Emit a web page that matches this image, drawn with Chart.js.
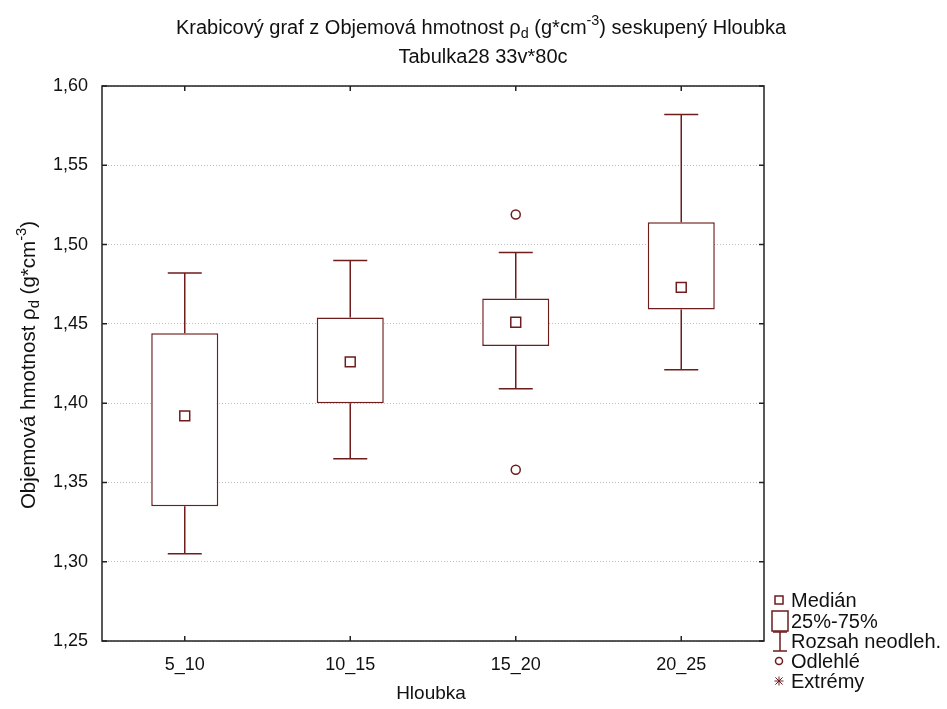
<!DOCTYPE html>
<html>
<head>
<meta charset="utf-8">
<script src="https://cdn.jsdelivr.net/npm/chart.js@4.4.1/dist/chart.umd.min.js"></script>
<style>
  html, body { margin: 0; padding: 0; background: #fff; }
  #wrap { width: 947px; height: 709px; }
</style>
</head>
<body>
<div id="wrap"><canvas id="c" width="947" height="709"></canvas></div>
<script>
// ---- data ----
const categories = ['5_10', '10_15', '15_20', '20_25'];
const whiskerLow  = [1.305, 1.365, 1.409, 1.421];
const quartile1   = [1.335, 1.400, 1.436, 1.459];
const medians     = [1.392, 1.426, 1.451, 1.473];
const quartile3   = [1.444, 1.454, 1.466, 1.514];
const whiskerHigh = [1.482, 1.490, 1.495, 1.582];
const outlierCats = ['15_20', '15_20'];
const outlierVals = [1.519, 1.358];
const yTicks = [1.25, 1.30, 1.35, 1.40, 1.45, 1.50, 1.55, 1.60];
const legendLabels = ['Medián', '25%-75%', 'Rozsah neodleh.', 'Odlehlé', 'Extrémy'];

const MARK = '#6e1c1c';
const FONT = '"Liberation Sans", Arial, sans-serif';

// rich text helper (sub/superscripts)
function richWidth(ctx, segs, size) {
  let w = 0;
  for (const s of segs) {
    const fs = s.sub || s.sup ? size * 0.72 : size;
    ctx.font = fs + 'px ' + FONT;
    w += ctx.measureText(s.t).width;
  }
  return w;
}
function drawRich(ctx, segs, cx, cy, size) {
  const w = richWidth(ctx, segs, size);
  let x = cx - w / 2;
  ctx.textBaseline = 'middle';
  ctx.textAlign = 'left';
  for (const s of segs) {
    const fs = s.sub || s.sup ? size * 0.72 : size;
    ctx.font = fs + 'px ' + FONT;
    let dy = 0;
    if (s.sub) dy = size * 0.3;
    if (s.sup) dy = -size * 0.35;
    ctx.fillText(s.t, x, cy + dy);
    x += ctx.measureText(s.t).width;
  }
}

const titleSegs = [
  { t: 'Krabicový graf z Objemová hmotnost ρ' }, { t: 'd', sub: true },
  { t: ' (g*cm' }, { t: '-3', sup: true }, { t: ') seskupený Hloubka' }
];
const subtitleSegs = [{ t: 'Tabulka28 33v*80c' }];
const yTitleSegs = [
  { t: 'Objemová hmotnost ρ' }, { t: 'd', sub: true },
  { t: ' (g*cm' }, { t: '-3', sup: true }, { t: ')' }
];

const boxPlugin = {
  id: 'boxExtras',
  beforeDatasetsDraw(chart) {
    const ctx = chart.ctx;
    const xs = chart.scales.x, ys = chart.scales.y;
    ctx.save();
    ctx.strokeStyle = MARK;
    ctx.lineWidth = 1.5;
    categories.forEach((c, i) => {
      const x = xs.getPixelForValue(i);
      const cap = 17;
      const yLo = ys.getPixelForValue(whiskerLow[i]);
      const yQ1 = ys.getPixelForValue(quartile1[i]);
      const yQ3 = ys.getPixelForValue(quartile3[i]);
      const yHi = ys.getPixelForValue(whiskerHigh[i]);
      ctx.beginPath();
      ctx.moveTo(x, yQ3); ctx.lineTo(x, yHi);
      ctx.moveTo(x - cap, yHi); ctx.lineTo(x + cap, yHi);
      ctx.moveTo(x, yQ1); ctx.lineTo(x, yLo);
      ctx.moveTo(x - cap, yLo); ctx.lineTo(x + cap, yLo);
      ctx.stroke();
    });
    ctx.restore();
  },
  afterDraw(chart) {
    const ctx = chart.ctx;
    const a = chart.chartArea;
    const xs = chart.scales.x, ys = chart.scales.y;
    ctx.save();
    // frame
    ctx.strokeStyle = '#222';
    ctx.lineWidth = 1.5;
    ctx.strokeRect(a.left, a.top, a.right - a.left, a.bottom - a.top);
    // inward ticks
    ctx.beginPath();
    const tl = 5;
    yTicks.forEach(v => {
      const y = ys.getPixelForValue(v);
      ctx.moveTo(a.left, y); ctx.lineTo(a.left + tl, y);
      ctx.moveTo(a.right, y); ctx.lineTo(a.right - tl, y);
    });
    categories.forEach((c, i) => {
      const x = xs.getPixelForValue(i);
      ctx.moveTo(x, a.top); ctx.lineTo(x, a.top + tl);
      ctx.moveTo(x, a.bottom); ctx.lineTo(x, a.bottom - tl);
    });
    ctx.stroke();

    // titles
    ctx.fillStyle = '#111';
    drawRich(ctx, titleSegs, 481, 28, 20);
    drawRich(ctx, subtitleSegs, 483, 57, 20);
    // x title
    ctx.font = '19px ' + FONT;
    ctx.textAlign = 'center';
    ctx.textBaseline = 'middle';
    ctx.fillText('Hloubka', 431, 694);
    // y title
    ctx.save();
    ctx.translate(29, 365);
    ctx.rotate(-Math.PI / 2);
    drawRich(ctx, yTitleSegs, 0, 0, 20.5);
    ctx.restore();

    // legend
    const lx = 779, tx = 791;
    const rows = [600, 621, 641, 661, 681];
    ctx.strokeStyle = MARK;
    ctx.lineWidth = 1.5;
    // median small square
    ctx.strokeRect(lx - 4, rows[0] - 4, 8, 8);
    // box
    ctx.strokeRect(lx - 7, rows[1] - 10, 16, 20);
    // whisker
    ctx.beginPath();
    ctx.moveTo(lx - 6, rows[2] - 9); ctx.lineTo(lx + 8, rows[2] - 9);
    ctx.moveTo(lx + 1, rows[2] - 9); ctx.lineTo(lx + 1, rows[2] + 10);
    ctx.moveTo(lx - 6, rows[2] + 10); ctx.lineTo(lx + 8, rows[2] + 10);
    ctx.stroke();
    // outlier circle
    ctx.beginPath();
    ctx.arc(lx, rows[3], 3.5, 0, Math.PI * 2);
    ctx.stroke();
    // extreme asterisk
    ctx.lineWidth = 1;
    ctx.beginPath();
    const r = 4.5, ey = rows[4];
    ctx.moveTo(lx, ey - r); ctx.lineTo(lx, ey + r);
    ctx.moveTo(lx - r, ey); ctx.lineTo(lx + r, ey);
    ctx.moveTo(lx - r * 0.8, ey - r * 0.8); ctx.lineTo(lx + r * 0.8, ey + r * 0.8);
    ctx.moveTo(lx - r * 0.8, ey + r * 0.8); ctx.lineTo(lx + r * 0.8, ey - r * 0.8);
    ctx.stroke();
    ctx.fillStyle = '#111';
    ctx.font = '20px ' + FONT;
    ctx.textAlign = 'left';
    ctx.textBaseline = 'middle';
    legendLabels.forEach((t, i) => ctx.fillText(t, tx, rows[i] + 1));
    ctx.restore();
  }
};

new Chart(document.getElementById('c'), {
  data: {
    labels: categories,
    datasets: [
      {
        type: 'line',
        label: 'Medián',
        data: medians,
        showLine: false,
        pointStyle: 'rect',
        pointRadius: 7,
        pointHoverRadius: 7,
        borderColor: MARK,
        backgroundColor: '#fff',
        pointBorderWidth: 1.5,
        order: 0
      },
      {
        type: 'line',
        label: 'Odlehlé',
        data: outlierCats.map((c, i) => ({ x: c, y: outlierVals[i] })),
        showLine: false,
        pointStyle: 'circle',
        pointRadius: 4.5,
        pointHoverRadius: 4.5,
        borderColor: MARK,
        backgroundColor: '#fff',
        pointBorderWidth: 1.5,
        order: 1
      },
      {
        type: 'bar',
        label: '25%-75%',
        data: quartile1.map((v, i) => [v, quartile3[i]]),
        backgroundColor: '#fff',
        borderColor: MARK,
        borderWidth: 1.5,
        borderSkipped: false,
        barPercentage: 0.405,
        categoryPercentage: 1,
        order: 2
      }
    ]
  },
  options: {
    responsive: false,
    animation: false,
    events: [],
    layout: { padding: { left: 0, right: 183, top: 86, bottom: 0 } },
    plugins: { legend: { display: false }, title: { display: false }, tooltip: { enabled: false } },
    scales: {
      x: {
        type: 'category',
        offset: true,
        grid: { display: false, drawTicks: false },
        border: { display: false },
        ticks: { color: '#111', font: { family: FONT, size: 18 }, padding: 13 },
        afterFit(s) { s.height = 68; }
      },
      y: {
        type: 'linear',
        min: 1.25,
        max: 1.60,
        afterBuildTicks(s) { s.ticks = yTicks.map(v => ({ value: v })); },
        grid: { color: '#bdbdbd', lineWidth: 1, drawTicks: false },
        border: { display: false, dash: [1, 2] },
        ticks: {
          color: '#111',
          font: { family: FONT, size: 18 },
          padding: 14,
          callback: v => Number(v).toFixed(2).replace('.', ',')
        },
        afterFit(s) { s.width = 102; }
      }
    }
  },
  plugins: [boxPlugin]
});
</script>
</body>
</html>
